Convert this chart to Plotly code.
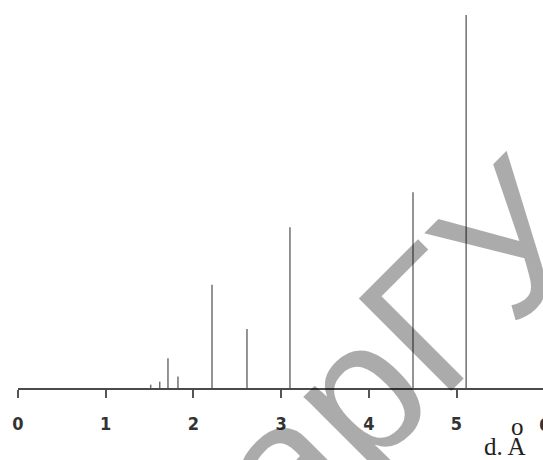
import plotly.graph_objects as go

# Interplanar spacings d (Å) and relative intensities of the reflections
d_spacing = [1.513, 1.616, 1.71, 1.824, 2.212, 2.611, 3.101, 4.504, 5.11]
intensity = [0.9, 1.7, 8.0, 3.1, 27.7, 15.8, 43.1, 52.5, 100.0]

tick_vals = [0, 1, 2, 3, 4, 5, 6]
tick_text = ["0", "1", "2", "3", "4", "5", "6"]

PX_PER_UNIT = 87.7
LEFT, PLOT_W, PLOT_H, BASE_Y = 18, 525, 373, 388

# Build vertical sticks from the baseline to each intensity
xs, ys = [], []
for d, i in zip(d_spacing, intensity):
    xs += [d, d, None]
    ys += [0, i, None]

tick_font = dict(family="Liberation Sans Narrow, DejaVu Sans Condensed, sans-serif",
                 size=18, color="#333", weight="bold")
serif = dict(family="Liberation Serif, Times New Roman, serif", size=25, color="#222")

fig = go.Figure()
fig.add_trace(go.Scatter(
    x=xs, y=ys, mode="lines",
    line=dict(color="#707070", width=1.5),
    hoverinfo="skip", showlegend=False,
))

fig.update_layout(
    width=543, height=460,
    margin=dict(l=LEFT, r=0, t=15, b=72),
    paper_bgcolor="white", plot_bgcolor="white",
    xaxis=dict(
        range=[0, PLOT_W / PX_PER_UNIT],
        tickmode="array", tickvals=tick_vals, ticktext=tick_text,
        ticks="outside", ticklen=8, tickwidth=1.5, tickcolor="#555",
        showline=True, linecolor="#4a4a4a", linewidth=1.6,
        showgrid=False, zeroline=False,
        ticklabelstandoff=11,
        tickfont=tick_font,
    ),
    yaxis=dict(range=[0, 100], visible=False, showgrid=False, zeroline=False),
    annotations=[
        # last tick label, sitting right at the right edge
        dict(text=tick_text[-1], xref="paper", yref="paper",
             x=tick_vals[-1] * PX_PER_UNIT / PLOT_W, y=(BASE_Y - 424) / PLOT_H,
             showarrow=False, xanchor="center", yanchor="middle", font=tick_font),
        # axis title: d, Å with the ring drawn above the A
        dict(text="d. A", xref="paper", yref="paper", x=(505 - LEFT) / PLOT_W,
             y=(BASE_Y - 446) / PLOT_H,
             showarrow=False, xanchor="center", yanchor="middle", font=serif),
        dict(text="o", xref="paper", yref="paper", x=(517 - LEFT) / PLOT_W,
             y=(BASE_Y - 426) / PLOT_H,
             showarrow=False, xanchor="center", yanchor="middle", font=serif),
        # watermark
        dict(text="КарГУ", xref="paper", yref="paper", x=(359 - LEFT) / PLOT_W,
             y=(BASE_Y - 390) / PLOT_H,
             showarrow=False, xanchor="center", yanchor="middle", textangle=-45,
             font=dict(family="Liberation Sans, Arial, sans-serif", size=190,
                       color="rgba(0,0,0,0.33)")),
    ],
)

fig.write_html("out.html")
